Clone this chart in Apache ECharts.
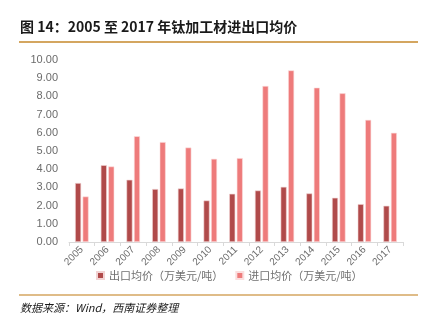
<!DOCTYPE html>
<html>
<head>
<meta charset="utf-8">
<script src="https://cdn.jsdelivr.net/npm/echarts@6/dist/echarts.min.js"></script>
<style>
html,body{margin:0;padding:0;background:#fff;}
#chart{width:429px;height:333px;}
</style>
</head>
<body>
<div id="chart"></div>
<script>
// 2005–2017 titanium mill products: average export / import prices (10k USD per tonne)
const years = ['2005','2006','2007','2008','2009','2010','2011','2012','2013','2014','2015','2016','2017'];
const exportPrice = [3.24, 4.22, 3.42, 2.91, 2.94, 2.28, 2.65, 2.83, 3.03, 2.67, 2.43, 2.08, 1.99];
const importPrice = [2.50, 4.15, 5.81, 5.49, 5.19, 4.57, 4.61, 8.57, 9.43, 8.48, 8.17, 6.71, 6.00];
const yTicks = [0, 1, 2, 3, 4, 5, 6, 7, 8, 9, 10];

const chart = echarts.init(document.getElementById('chart'));
const cjk = '"Noto Sans CJK SC", "Liberation Sans", sans-serif';

chart.setOption({
  backgroundColor: '#fff',
  animation: false,
  textStyle: { fontFamily: cjk },
  grid: { left: 69, right: 26, top: 60, bottom: 91 },
  legend: {
    data: ['出口均价（万美元/吨）', '进口均价（万美元/吨）'],
    left: 91, top: 265,
    itemWidth: 7, itemHeight: 7, itemGap: 12,
    icon: 'rect',
    textStyle: { fontSize: 11, color: '#707070', fontFamily: cjk }
  },
  xAxis: {
    type: 'category',
    data: years,
    boundaryGap: true,
    axisLine: { lineStyle: { color: '#d9d9d9', width: 1 } },
    axisTick: { show: true, length: 4, lineStyle: { color: '#d9d9d9' } },
    axisLabel: { rotate: 45, fontSize: 10, color: '#6b6b6b', margin: 6, fontFamily: '"Liberation Sans", sans-serif' }
  },
  yAxis: {
    type: 'value',
    min: yTicks[0], max: yTicks[yTicks.length - 1], interval: 1,
    axisLine: { show: false },
    axisTick: { show: false },
    splitLine: { show: false },
    axisLabel: {
      fontSize: 11, color: '#6b6b6b', margin: 11,
      fontFamily: '"Liberation Sans", sans-serif',
      formatter: v => v.toFixed(2)
    }
  },
  series: [
    {
      name: '出口均价（万美元/吨）',
      type: 'bar',
      data: exportPrice,
      barWidth: 6,
      barGap: '25%',
      itemStyle: { color: '#b04a4a', borderColor: '#f2d3d3', borderWidth: 0.6 }
    },
    {
      name: '进口均价（万美元/吨）',
      type: 'bar',
      data: importPrice,
      barWidth: 6,
      itemStyle: { color: '#ee7b7b', borderColor: '#fbdede', borderWidth: 0.6 }
    }
  ],
  graphic: [
    {
      type: 'text', left: 20, top: 20,
      style: { text: '图 14：2005 至 2017 年钛加工材进出口均价', font: 'bold 14px "Noto Sans CJK SC", sans-serif', fill: '#1a1a1a' }
    },
    {
      type: 'line', shape: { x1: 19, y1: 42, x2: 418, y2: 42 },
      style: { stroke: '#d4a660', lineWidth: 2 }
    },
    {
      type: 'line', shape: { x1: 19, y1: 295, x2: 418, y2: 295 },
      style: { stroke: '#d4a660', lineWidth: 1.5 }
    },
    {
      type: 'text', left: 20, top: 302,
      style: { text: '数据来源：Wind，西南证券整理', font: 'italic 11px "Noto Sans CJK SC", sans-serif', fill: '#1a1a1a' }
    }
  ]
});
</script>
</body>
</html>
